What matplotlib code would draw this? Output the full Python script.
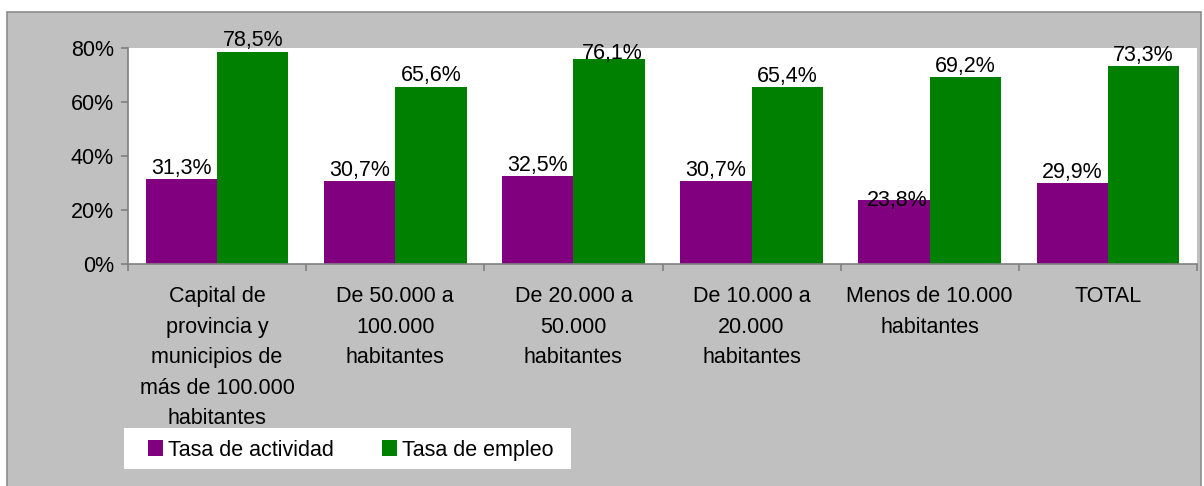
import matplotlib.pyplot as plt
import numpy as np
from matplotlib.patches import Rectangle

plt.rcParams['font.family'] = ['Liberation Sans', 'DejaVu Sans']

# Datos
categorias = ["Capital de\nprovincia y\nmunicipios de\nmás de 100.000\nhabitantes",
              "De 50.000 a\n100.000\nhabitantes",
              "De 20.000 a\n50.000\nhabitantes",
              "De 10.000 a\n20.000\nhabitantes",
              "Menos de 10.000\nhabitantes",
              "TOTAL"]
tasa_actividad = [31.3, 30.7, 32.5, 30.7, 23.8, 29.9]
tasa_empleo = [78.5, 65.6, 76.1, 65.4, 69.2, 73.3]
series = ["Tasa de actividad", "Tasa de empleo"]
colores = ["#800080", "#008000"]

fs = 15.5
W, H = 1204, 486

fig = plt.figure(figsize=(W/100, H/100), dpi=100)
fig.patch.set_facecolor('white')
# fondo gris del area del grafico
fig.patches.append(Rectangle((7/W, -0.01), 1194/W, 1 - 12/H + 0.01,
                             transform=fig.transFigure, facecolor='#c0c0c0',
                             edgecolor='#8c8c8c', linewidth=1.2, zorder=-1))
# caja blanca de la leyenda
fig.patches.append(Rectangle((124/W, 1 - 469/H), (571-124)/W, 41/H,
                             transform=fig.transFigure, facecolor='white',
                             edgecolor='none', zorder=0))

ax = fig.add_axes([128/W, 1 - 264/H, (1197-128)/W, (264-48)/H])
ax.set_facecolor('white')

x = np.arange(len(categorias))
w = 0.4
b1 = ax.bar(x - w/2, np.array(tasa_actividad)/100, w, color=colores[0], label=series[0])
b2 = ax.bar(x + w/2, np.array(tasa_empleo)/100, w, color=colores[1], label=series[1])

def etiqueta(v):
    return ("%.1f%%" % v).replace('.', ',')

# Excel desplaza algunas etiquetas sobre la barra
desplaz = {23.8: -4.5, 76.1: 0}

for barras, vals in ((b1, tasa_actividad), (b2, tasa_empleo)):
    for r, v in zip(barras, vals):
        dy = desplaz.get(v, 4)
        ax.annotate(etiqueta(v), (r.get_x() + r.get_width()/2, r.get_height()),
                    xytext=(2 if v in desplaz else 0, dy), textcoords='offset points',
                    ha='center', va='baseline', fontsize=fs, color='black',
                    annotation_clip=False)

ax.set_xlim(-0.5, len(categorias) - 0.5)
ax.set_ylim(0, 0.8)
ax.set_yticks([0, 0.2, 0.4, 0.6, 0.8])
ax.set_yticklabels(["0%", "20%", "40%", "60%", "80%"], fontsize=fs)

ax.set_xticks(np.arange(len(categorias) + 1) - 0.5)
ax.set_xticklabels([])
ax.set_xticks(x, minor=True)
ax.set_xticklabels(categorias, minor=True, fontsize=fs, linespacing=1.59, va='top')
ax.tick_params(axis='x', which='minor', length=0, pad=16)
ax.tick_params(axis='x', which='major', length=5, color='#808080', width=1.2)
ax.tick_params(axis='y', length=5, color='#808080', width=1.2, pad=5)

for s in ('top', 'right'):
    ax.spines[s].set_visible(False)
for s in ('left', 'bottom'):
    ax.spines[s].set_color('#808080')
    ax.spines[s].set_linewidth(1.2)

leg = fig.legend(handles=[b1, b2], labels=series, loc='center left',
                 bbox_to_anchor=(148/W, 1 - 450/H), ncol=2, fontsize=fs,
                 frameon=False, handlelength=0.7, handleheight=0.7,
                 handletextpad=0.25, columnspacing=2.2,
                 borderaxespad=0, borderpad=0)

fig.savefig('out.png', dpi=100)
